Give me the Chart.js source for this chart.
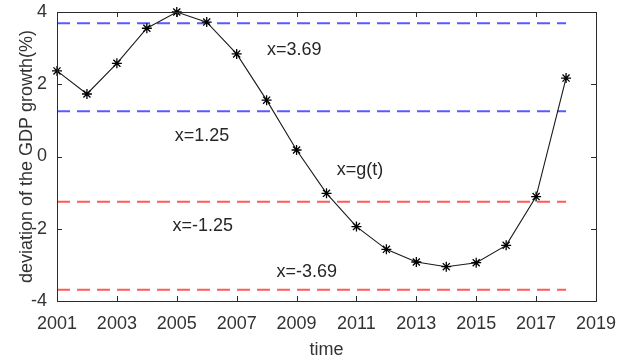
<!DOCTYPE html>
<html>
<head>
<meta charset="utf-8">
<script src="https://cdn.jsdelivr.net/npm/chart.js@4/dist/chart.umd.min.js"></script>
<style>
  html, body { margin: 0; padding: 0; background: #ffffff; }
  #wrap { width: 632px; height: 361px; }
</style>
</head>
<body>
<div id="wrap"><canvas id="c" width="632" height="361"></canvas></div>
<script>
// Yearly deviation of GDP growth (%)
const years = [2001, 2002, 2003, 2004, 2005, 2006, 2007, 2008, 2009,
               2010, 2011, 2012, 2013, 2014, 2015, 2016, 2017, 2018];
const deviation = [2.37, 1.73, 2.58, 3.55, 4.00, 3.72, 2.84, 1.56, 0.18,
                   -1.02, -1.94, -2.57, -2.92, -3.05, -2.94, -2.46, -1.11, 2.17];

// Threshold levels drawn as dashed horizontal lines
const upperLevels = [3.69, 1.25];
const lowerLevels = [-1.25, -3.69];

// Axis ticks
const xTickValues = [2001, 2003, 2005, 2007, 2009, 2011, 2013, 2015, 2017, 2019];
const yTickValues = [-4, -2, 0, 2, 4];

// Text notes on the plot
const noteTexts = ['x=3.69', 'x=1.25', 'x=g(t)', 'x=-1.25', 'x=-3.69'];

const FONT = "'Liberation Sans', Arial, Helvetica, sans-serif";
const AXIS_COLOR = '#2b2b2b';

function levelLine(level, color) {
  return {
    label: 'x=' + level,
    data: [{ x: years[0], y: level }, { x: years[years.length - 1], y: level }],
    borderColor: color,
    borderWidth: 2,
    borderDash: [13, 7],
    pointRadius: 0,
    fill: false,
    order: 2
  };
}

const datasets = [
  ...upperLevels.map(v => levelLine(v, 'rgb(90,90,255)')),
  ...lowerLevels.map(v => levelLine(v, 'rgb(255,90,90)')),
  {
    label: 'x=g(t)',
    data: years.map((yr, i) => ({ x: yr, y: deviation[i] })),
    borderColor: '#1a1a1a',
    borderWidth: 1.1,
    pointStyle: 'star',
    pointRadius: 5,
    pointBorderWidth: 1.3,
    pointBorderColor: '#000000',
    pointBackgroundColor: '#000000',
    tension: 0,
    fill: false,
    clip: false,
    order: 1
  }
];

// Box frame, inward tick marks and text notes
const frameAndNotes = {
  id: 'frameAndNotes',
  afterDatasetsDraw(chart) {
    const { ctx, chartArea: a, scales: { x, y } } = chart;
    ctx.save();
    ctx.strokeStyle = AXIS_COLOR;
    ctx.lineWidth = 1;
    ctx.strokeRect(Math.round(a.left) + 0.5, Math.round(a.top) + 0.5,
                   Math.round(a.right - a.left), Math.round(a.bottom - a.top));
    const len = 5;
    ctx.beginPath();
    xTickValues.forEach(v => {
      const px = Math.round(x.getPixelForValue(v)) + 0.5;
      ctx.moveTo(px, a.bottom); ctx.lineTo(px, a.bottom - len);
      ctx.moveTo(px, a.top); ctx.lineTo(px, a.top + len);
    });
    yTickValues.forEach(v => {
      const py = Math.round(y.getPixelForValue(v)) + 0.5;
      ctx.moveTo(a.left, py); ctx.lineTo(a.left + len, py);
      ctx.moveTo(a.right, py); ctx.lineTo(a.right - len, py);
    });
    ctx.stroke();

    const anchors = [[2008.92, 2.95], [2005.84, 0.58], [2011.12, -0.37],
                     [2005.87, -1.92], [2009.34, -3.20]];
    ctx.fillStyle = '#262626';
    ctx.font = '18px ' + FONT;
    ctx.textAlign = 'center';
    ctx.textBaseline = 'middle';
    noteTexts.forEach((t, i) => {
      ctx.fillText(t, x.getPixelForValue(anchors[i][0]), y.getPixelForValue(anchors[i][1]));
    });
    ctx.restore();
  }
};

new Chart(document.getElementById('c'), {
  type: 'line',
  data: { datasets },
  options: {
    responsive: false,
    animation: false,
    layout: { padding: { top: 12, right: 36, left: 0, bottom: 0 } },
    plugins: { legend: { display: false }, tooltip: { enabled: false } },
    scales: {
      x: {
        type: 'linear',
        min: 2001,
        max: 2019,
        afterBuildTicks: s => { s.ticks = xTickValues.map(v => ({ value: v })); },
        afterFit: s => { s.height = 60; s.paddingLeft = 0; s.paddingRight = 0; },
        grid: { display: false, drawTicks: false },
        border: { display: false },
        ticks: {
          padding: 12,
          color: '#333333',
          font: { family: FONT, size: 18 },
          maxRotation: 0,
          autoSkip: false,
          callback: v => String(v)
        },
        title: {
          display: true,
          text: 'time',
          color: '#333333',
          font: { family: FONT, size: 18 },
          padding: { top: 0, bottom: 0 }
        }
      },
      y: {
        type: 'linear',
        min: -4,
        max: 4,
        afterBuildTicks: s => { s.ticks = yTickValues.map(v => ({ value: v })); },
        afterFit: s => { s.width = 57; s.paddingTop = 0; s.paddingBottom = 0; },
        grid: { display: false, drawTicks: false },
        border: { display: false },
        ticks: {
          padding: 10,
          color: '#333333',
          font: { family: FONT, size: 18 },
          autoSkip: false,
          callback: v => String(v)
        },
        title: {
          display: true,
          text: 'deviation of the GDP growth(%)',
          color: '#333333',
          font: { family: FONT, size: 18 },
          padding: { top: 16, bottom: 0 }
        }
      }
    }
  },
  plugins: [frameAndNotes]
});
</script>
</body>
</html>
